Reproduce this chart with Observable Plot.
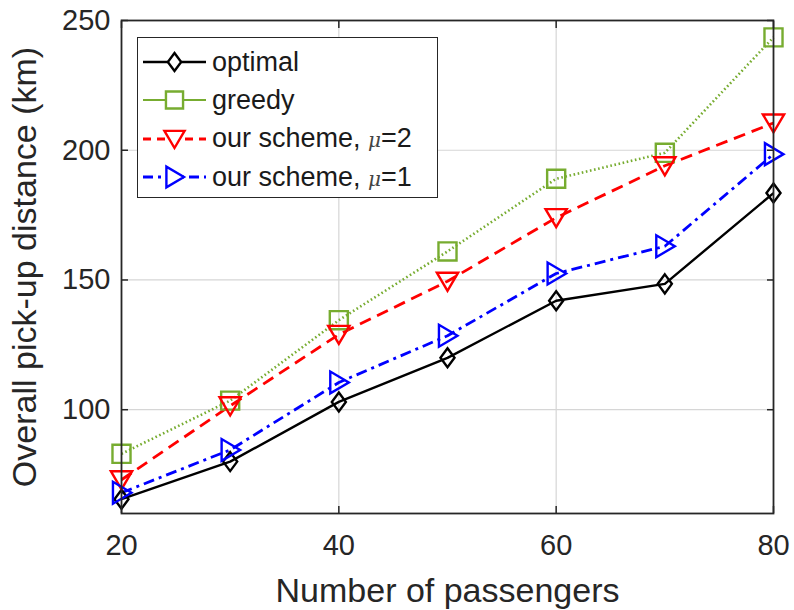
<!DOCTYPE html>
<html>
<head>
<meta charset="utf-8">
<script src="https://cdn.jsdelivr.net/npm/d3@7"></script>
<script src="https://cdn.jsdelivr.net/npm/@observablehq/plot@0.6"></script>
<style>
  html, body { margin: 0; padding: 0; background: #fff; }
  #wrap { position: relative; width: 794px; height: 610px; font-family: "Liberation Sans", Arial, sans-serif; }
  #legend { position: absolute; left: 137px; top: 37px; width: 299px; height: 159px; border: 1.6px solid #262626; background: #fff; box-sizing: content-box; }
  .row { position: absolute; left: 0; height: 38px; display: flex; align-items: center; }
  .row svg { display: block; }
  .row span { font-size: 27px; color: #1a1a1a; margin-left: 4px; white-space: nowrap; line-height: 1; }
  .row i { font-family: "DejaVu Serif", serif; font-size: 20px; color: #444; }
</style>
</head>
<body>
<div id="wrap"></div>
<script>
// ---- data ----
const passengers = [20, 30, 40, 50, 60, 70, 80];
const optimal    = [65.5, 80, 103, 120, 142, 148.5, 183.5];
const greedy     = [83, 103.5, 134.5, 161, 189, 199, 243.5];
const schemeMu2  = [73, 101.5, 129, 149.5, 174, 194, 210.5];
const schemeMu1  = [68, 84.5, 110.5, 128.5, 152.5, 163, 198.5];
const seriesLabels = ["optimal", "greedy", "our scheme, μ=2", "our scheme, μ=1"];
const xTicks = [20, 40, 60, 80];
const yTicks = [100, 150, 200, 250];
const xLabel = "Number of passengers";
const yLabel = "Overall pick-up distance (km)";

// ---- styles ----
function polySymbol(pts) {
  return {
    draw(ctx, size) {
      const r = Math.sqrt(size / Math.PI);
      ctx.moveTo(pts[0][0] * r, pts[0][1] * r);
      for (let i = 1; i < pts.length; i++) ctx.lineTo(pts[i][0] * r, pts[i][1] * r);
      ctx.closePath();
    }
  };
}
const diamondPts = [[0, -1], [0.74, 0], [0, 1], [-0.74, 0]];
const squarePts = [[-0.95, -0.95], [0.95, -0.95], [0.95, 0.95], [-0.95, 0.95]];
const downPts = [[-1.12, -0.9], [1.12, -0.9], [0, 1.0]];
const rightPts = [[-0.9, -1.15], [-0.9, 1.15], [1.05, 0]];

const styles = [
  {values: optimal,   stroke: "#000000", dash: null,          pts: diamondPts, width: 2.4},
  {values: greedy,    stroke: "#77AC30", dash: "1.6,2.6",     pts: squarePts,  width: 2.6},
  {values: schemeMu2, stroke: "#FF0000", dash: "12,7",        pts: downPts,    width: 2.8},
  {values: schemeMu1, stroke: "#0000FF", dash: "11,5,3,5",    pts: rightPts,   width: 2.8}
];

const rows = (vals) => passengers.map((p, i) => ({x: p, y: vals[i]}));

const seriesMarks = [];
styles.forEach(s => {
  seriesMarks.push(Plot.line(rows(s.values), {x: "x", y: "y", stroke: s.stroke, strokeWidth: s.width, strokeDasharray: s.dash ?? undefined, strokeLinejoin: "round", strokeLinecap: "butt"}));
});
styles.forEach(s => {
  seriesMarks.push(Plot.dot(rows(s.values), {x: "x", y: "y", r: 9.5, symbol: polySymbol(s.pts), stroke: s.stroke, strokeWidth: 2.4, fill: "none"}));
});

const font = '"Liberation Sans", Arial, sans-serif';
const chart = Plot.plot({
  width: 794,
  height: 610,
  marginLeft: 121,
  marginRight: 21,
  marginTop: 20,
  marginBottom: 97,
  style: {fontFamily: font, color: "#262626", background: "#fff", overflow: "visible"},
  x: {domain: [20, 80]},
  y: {domain: [60, 250]},
  marks: [
    Plot.gridX(xTicks.slice(1, -1), {stroke: "#d6d6d6", strokeOpacity: 1, strokeWidth: 1.2}),
    Plot.gridY(yTicks.slice(0, -1), {stroke: "#d6d6d6", strokeOpacity: 1, strokeWidth: 1.2}),
    ...seriesMarks,
    Plot.frame({stroke: "#262626", strokeWidth: 1.8}),
    Plot.axisX(xTicks, {anchor: "bottom", tickSize: -7, tickFormat: () => "", label: null, strokeWidth: 1.5}),
    Plot.axisX(xTicks, {anchor: "top", tickSize: -7, tickFormat: () => "", label: null, strokeWidth: 1.5}),
    Plot.axisY(yTicks, {anchor: "left", tickSize: -7, tickFormat: () => "", label: null, strokeWidth: 1.5}),
    Plot.axisY(yTicks, {anchor: "right", tickSize: -7, tickFormat: () => "", label: null, strokeWidth: 1.5}),
    Plot.axisX(xTicks, {anchor: "bottom", tickSize: 0, tickPadding: 21, fontSize: 29, label: xLabel, labelAnchor: "center", labelOffset: 88, labelArrow: "none"}),
    Plot.axisY(yTicks, {anchor: "left", tickSize: 0, tickPadding: 11, fontSize: 29, label: yLabel, labelAnchor: "center", labelOffset: 110, labelArrow: "none"})
  ]
});

document.getElementById("wrap").appendChild(chart);
d3.select(chart).selectAll('g[aria-label="x-axis label"], g[aria-label="y-axis label"]')
  .attr("font-size", 34).selectAll("text").attr("font-size", 34);

// ---- legend (overlay) ----
const legend = document.createElement("div");
legend.id = "legend";
const ns = "http://www.w3.org/2000/svg";
styles.forEach((s, i) => {
  const row = document.createElement("div");
  row.className = "row";
  row.style.top = (5 + i * 38.4) + "px";
  const svg = document.createElementNS(ns, "svg");
  svg.setAttribute("width", 70); svg.setAttribute("height", 38);
  const line = document.createElementNS(ns, "line");
  line.setAttribute("x1", 5); line.setAttribute("x2", 68); line.setAttribute("y1", 19); line.setAttribute("y2", 19);
  line.setAttribute("stroke", s.stroke); line.setAttribute("stroke-width", s.width);
  if (s.dash && i !== 1) line.setAttribute("stroke-dasharray", i === 2 ? "8,6" : "10,5,3,5");
  if (i === 1) line.setAttribute("stroke-width", 2.2);
  svg.appendChild(line);
  const r = 9;
  const path = document.createElementNS(ns, "path");
  path.setAttribute("d", "M" + s.pts.map(p => (36.5 + p[0] * r) + "," + (19 + p[1] * r)).join("L") + "Z");
  path.setAttribute("fill", "#fff"); path.setAttribute("stroke", s.stroke); path.setAttribute("stroke-width", 2.4);
  svg.appendChild(path);
  row.appendChild(svg);
  const span = document.createElement("span");
  const label = seriesLabels[i];
  const mu = label.indexOf("μ");
  if (mu >= 0) {
    span.appendChild(document.createTextNode(label.slice(0, mu)));
    const it = document.createElement("i"); it.textContent = "μ"; span.appendChild(it);
    span.appendChild(document.createTextNode(label.slice(mu + 1)));
  } else span.textContent = label;
  row.appendChild(span);
  legend.appendChild(row);
});
document.getElementById("wrap").appendChild(legend);
</script>
</body>
</html>
